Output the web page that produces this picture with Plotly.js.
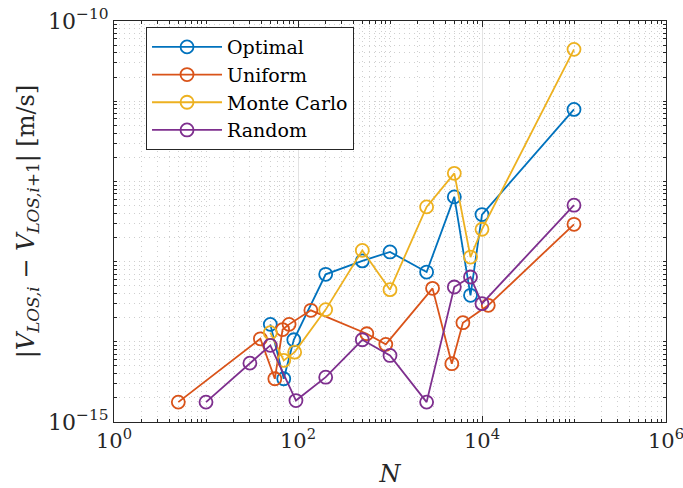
<!DOCTYPE html>
<html>
<head>
<meta charset="utf-8">
<script src="https://cdn.plot.ly/plotly-3.0.1.min.js"></script>
<style>html,body{margin:0;padding:0;background:#fff;}#chart{width:683px;height:488px;}</style>
</head>
<body>
<div id="chart"></div>
<script>
// Data
var seriesNames = ['Optimal', 'Uniform', 'Monte Carlo', 'Random'];

var optX = [50, 70, 90, 200, 500, 1000, 2500, 5000, 7500, 10000, 100000];
var optY = [1.65e-14, 3.46e-15, 1.06e-14, 6.94e-14, 1.02e-13, 1.32e-13, 7.41e-14, 6.41e-13, 3.80e-14, 3.86e-13, 7.90e-12];

var uniX = [5, 39, 56, 68, 80, 138, 560, 900, 2900, 4700, 6200, 11700, 100000];
var uniY = [1.77e-15, 1.09e-14, 3.46e-15, 1.42e-14, 1.65e-14, 2.47e-14, 1.26e-14, 9.29e-15, 4.64e-14, 5.33e-15, 1.73e-14, 2.85e-14, 2.92e-13];

var mcX = [50, 70, 92, 200, 500, 1000, 2500, 5000, 7500, 10000, 100000];
var mcY = [1.30e-14, 5.86e-15, 7.43e-15, 2.52e-14, 1.38e-13, 4.47e-14, 4.81e-13, 1.26e-12, 1.14e-13, 2.53e-13, 4.43e-11];

var rndX = [10, 30, 50, 95, 200, 500, 1000, 2500, 5000, 7500, 10000, 100000];
var rndY = [1.77e-15, 5.42e-15, 9.02e-15, 1.85e-15, 3.62e-15, 1.06e-14, 6.76e-15, 1.77e-15, 4.82e-14, 6.43e-14, 2.99e-14, 5.05e-13];

// Tick labels
var xTickVals = [1, 100, 10000, 1000000];
var xTickText = ['10<sup>0</sup>', '10<sup>2</sup>', '10<sup>4</sup>', '10<sup>6</sup>'];
var yTickVals = [1e-15, 1e-10];
var yTickText = ['10<sup>\u221215</sup>', '10<sup>\u221210</sup>'];

// minor tick positions (every digit of every decade)
function minorVals(e0, e1, skip) {
  var v = [];
  for (var e = e0; e < e1; e++) {
    for (var d = 1; d <= 9; d++) {
      if (d === 1 && skip.indexOf(e) >= 0) continue;
      v.push(d * Math.pow(10, e));
    }
  }
  return v;
}
var xMinor = minorVals(0, 6, [0, 2, 4]);
var yMinor = minorVals(-15, -10, [-15]);

var colors = ['#0072BD', '#D95319', '#EDB120', '#7E2F8E'];
var xs = [optX, uniX, mcX, rndX];
var ys = [optY, uniY, mcY, rndY];

var traces = [];
for (var i = 0; i < 4; i++) {
  traces.push({
    x: xs[i], y: ys[i], name: seriesNames[i],
    type: 'scatter', mode: 'lines+markers',
    line: {color: colors[i], width: 1.8},
    marker: {symbol: 'circle-open', size: 13, color: colors[i], line: {width: 1.8, color: colors[i]}}
  });
}

var fontFam = 'DejaVu Serif';

var layout = {
  width: 683, height: 488,
  margin: {l: 114, r: 17, t: 21, b: 66},
  paper_bgcolor: '#fff', plot_bgcolor: '#fff',
  font: {family: fontFam, color: '#262626', size: 20},
  showlegend: true,
  legend: {
    x: 0.058, y: 0.985, xanchor: 'left', yanchor: 'top',
    bgcolor: '#fff', bordercolor: '#262626', borderwidth: 1,
    font: {family: fontFam, size: 19, color: '#000'},
    itemwidth: 70, tracegroupgap: 0
  },
  xaxis: {
    type: 'log', range: [0, 6],
    tickmode: 'array', tickvals: xTickVals, ticktext: xTickText,
    ticks: 'inside', ticklen: 6, tickcolor: '#262626',
    showline: true, linecolor: '#262626', linewidth: 1, mirror: 'allticks',
    showgrid: true, gridcolor: '#e3e3e3', gridwidth: 1,
    zeroline: false, ticklabeloverflow: 'allow',
    tickfont: {family: fontFam, size: 21, color: '#262626'},
    minor: {tickmode: 'array', tickvals: xMinor, ticks: 'inside', ticklen: 3, tickcolor: '#262626',
            showgrid: true, gridcolor: '#cfcfcf', griddash: '1px,4px', gridwidth: 1},
    title: {text: '<i>N</i>', font: {family: fontFam, size: 24, color: '#262626'}, standoff: 12}
  },
  yaxis: {
    type: 'log', range: [-15, -10],
    tickmode: 'array', tickvals: yTickVals, ticktext: yTickText,
    ticks: 'inside', ticklen: 6, tickcolor: '#262626',
    showline: true, linecolor: '#262626', linewidth: 1, mirror: 'allticks',
    showgrid: true, gridcolor: '#e3e3e3', gridwidth: 1,
    zeroline: false,
    tickfont: {family: fontFam, size: 22, color: '#262626'},
    minor: {tickmode: 'array', tickvals: yMinor, ticks: 'inside', ticklen: 3, tickcolor: '#262626',
            showgrid: true, gridcolor: '#cfcfcf', griddash: '1px,4px', gridwidth: 1},
    title: {text: '|<i>V</i><sub><i>LOS,i</i></sub> \u2212 <i>V</i><sub><i>LOS,i</i>+1</sub>| [m/s]',
            font: {family: fontFam, size: 24, color: '#262626'}, standoff: 6}
  }
};

Plotly.newPlot('chart', traces, layout, {displayModeBar: false, staticPlot: true});
</script>
</body>
</html>
